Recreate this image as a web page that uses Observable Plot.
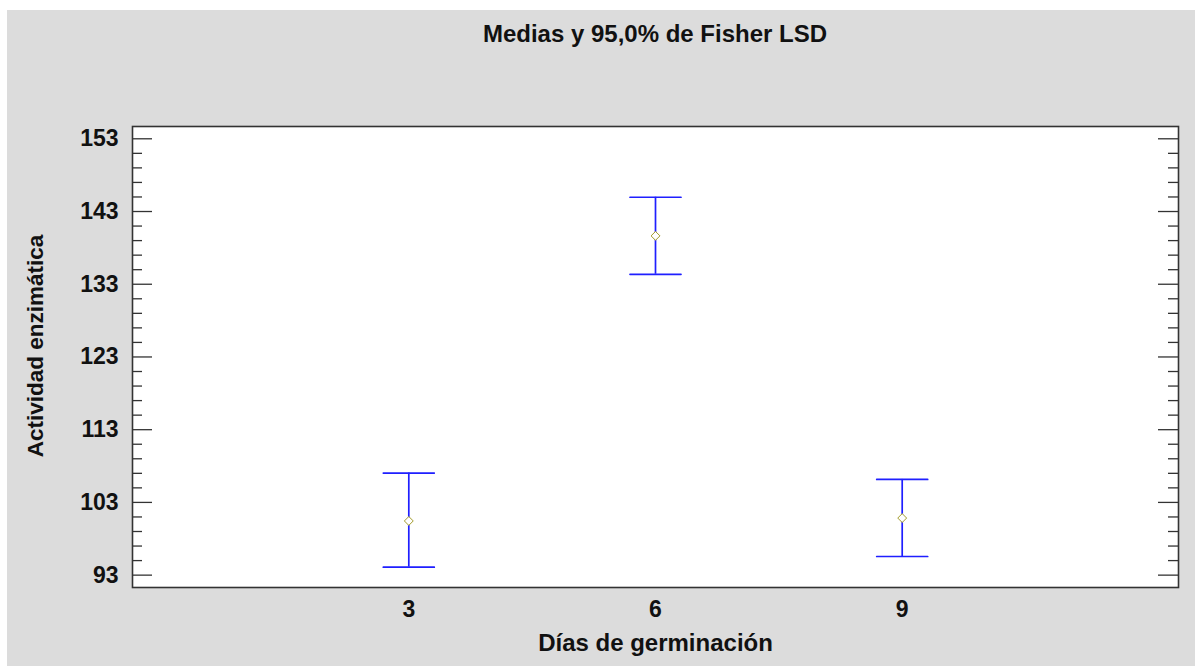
<!DOCTYPE html>
<html><head><meta charset="utf-8">
<script src="https://cdn.jsdelivr.net/npm/d3@7"></script>
<script src="https://cdn.jsdelivr.net/npm/@observablehq/plot@0.6"></script>
<style>
html,body{margin:0;padding:0;background:#fff;width:1195px;height:666px;overflow:hidden;}
#wrap{position:absolute;left:7px;top:10px;width:1188px;height:656px;background:#dcdcdc;font-family:"Liberation Sans",Arial,sans-serif;}
#title{position:absolute;left:125px;width:1046px;top:12px;height:24px;line-height:24px;text-align:center;font-size:24px;font-weight:bold;color:#111;}
#chart{position:absolute;left:0;top:54px;}
</style>
</head><body>
<div id="wrap"><div id="title"></div><div id="chart"></div></div>
<script>
const titleText = "Medias y 95,0% de Fisher LSD";
const xLabel = "Días de germinación";
const yLabel = "Actividad enzimática";
const dias = [3, 6, 9];
const medias = [100.45, 139.65, 100.85];
const inferior = [94.1, 134.37, 95.56];
const superior = [107.04, 144.96, 106.16];
const yMajorTicks = [93, 103, 113, 123, 133, 143, 153];
const yMinorTicks = [95, 97, 99, 101, 105, 107, 109, 111, 115, 117, 119, 121, 125, 127, 129, 131, 135, 137, 139, 141, 145, 147, 149, 151];
const xDomain = [-0.36, 12.36];
const yDomain = [91.3, 154.69];

const data = dias.map((d, i) => ({dia: d, media: medias[i], inf: inferior[i], sup: superior[i]}));

document.getElementById("title").textContent = titleText;

const W = 1188, H = 602, ML = 125, MR = 17, MT = 62, MB = 79;
const frameW = W - ML - MR;
const lineShape = {draw(ctx, l) { ctx.moveTo(0, 0); ctx.lineTo(0, -l); }};
const blue = "#1f1fff";
const tickColor = "#333";

const chart = Plot.plot({
  width: W, height: H,
  marginLeft: ML, marginRight: MR, marginTop: MT, marginBottom: MB,
  style: {background: "transparent", fontFamily: "'Liberation Sans', Arial, sans-serif", color: "#111", overflow: "visible"},
  x: {domain: xDomain, label: null},
  y: {domain: yDomain, label: null},
  marks: [
    Plot.frame({fill: "white", stroke: null}),
    Plot.tickY(yMajorTicks, {y: d => d, insetRight: frameW - 20, stroke: tickColor, strokeWidth: 1.3}),
    Plot.tickY(yMajorTicks, {y: d => d, insetLeft: frameW - 20, stroke: tickColor, strokeWidth: 1.3}),
    Plot.tickY(yMinorTicks, {y: d => d, insetRight: frameW - 10, stroke: tickColor, strokeWidth: 1.3}),
    Plot.tickY(yMinorTicks, {y: d => d, insetLeft: frameW - 10, stroke: tickColor, strokeWidth: 1.3}),
    Plot.axisY({ticks: yMajorTicks, tickSize: 0, tickPadding: 14, fontSize: 23, fontWeight: "bold", label: null}),
    Plot.axisX({ticks: dias, tickSize: 0, tickPadding: 13, fontSize: 23, fontWeight: "bold", label: null}),
    Plot.ruleX(data, {x: "dia", y1: "inf", y2: "sup", stroke: blue, strokeWidth: 1.7}),
    Plot.vector(data, {x: "dia", y: "sup", length: 51, rotate: 90, anchor: "middle", shape: lineShape, stroke: blue, strokeWidth: 1.7}),
    Plot.vector(data, {x: "dia", y: "inf", length: 51, rotate: 90, anchor: "middle", shape: lineShape, stroke: blue, strokeWidth: 1.7}),
    Plot.dot(data, {x: "dia", y: "media", symbol: "diamond2", r: 4, stroke: "#a39b2a", strokeWidth: 1, fill: "white"}),
    Plot.text([yLabel], {text: d => d, frameAnchor: "left", textAnchor: "middle", lineAnchor: "middle", rotate: -90, dx: -97, dy: -11, fontSize: 22.5, fontWeight: "bold", fill: "#111"}),
    Plot.text([xLabel], {text: d => d, frameAnchor: "bottom", textAnchor: "middle", lineAnchor: "middle", dy: 56, fontSize: 24, fontWeight: "bold", fill: "#111"}),
    Plot.frame({stroke: "#333", strokeWidth: 1.6})
  ]
});
document.getElementById("chart").appendChild(chart);
</script>
</body></html>
